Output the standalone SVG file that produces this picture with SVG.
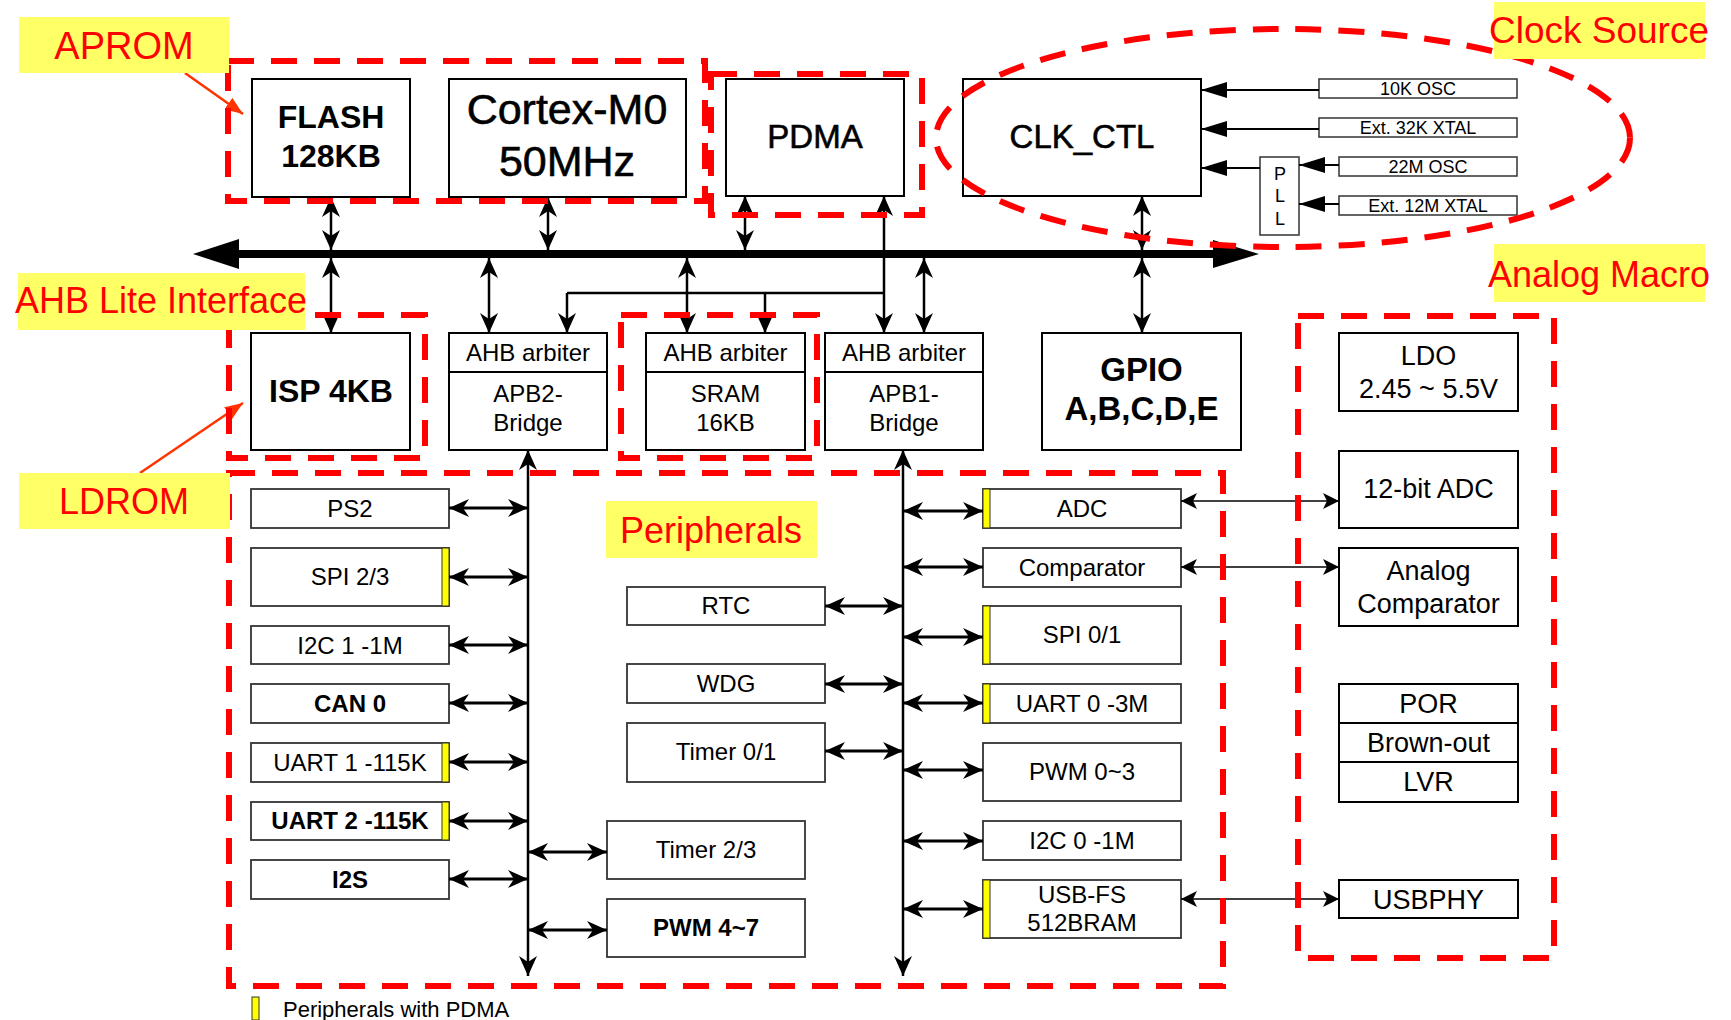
<svg xmlns="http://www.w3.org/2000/svg" width="1731" height="1020" viewBox="0 0 1731 1020">
<style>
.box{fill:#fff;stroke:#000;stroke-width:2}
.pbox{fill:#fff;stroke:#333;stroke-width:1.8}
.obox{fill:#fff;stroke:#333;stroke-width:1.5}
.t{font-family:"Liberation Sans",Arial,sans-serif;text-anchor:middle;fill:#000}
.s24{font-size:24px}
.s27{font-size:27px}
.s18{font-size:18px}
.b{font-weight:bold}
.m{stroke:#000;stroke-width:0.6}
.dash{fill:none;stroke:#f00;stroke-width:6;stroke-dasharray:26 17}
.lbl{fill:#ffff66}
.lt{font-family:"Liberation Sans",Arial,sans-serif;text-anchor:middle;fill:#f00;font-size:36px}
.bar{fill:#ff0;stroke:#333;stroke-width:1}
.c3{stroke:#000;stroke-width:3;fill:none;marker-start:url(#ah);marker-end:url(#ah)}
.cv{stroke:#000;stroke-width:2.5;fill:none;marker-start:url(#ah);marker-end:url(#ah)}
.cl{stroke:#000;stroke-width:2;fill:none;marker-end:url(#ac)}
.cs{stroke:#000;stroke-width:1.6;fill:none;marker-start:url(#as);marker-end:url(#as)}
.ptr{stroke:#f30;stroke-width:2.5;fill:none;marker-end:url(#ap)}
</style>
<defs>
<marker id="ah" viewBox="0 0 20 18" refX="20" refY="9" markerWidth="20" markerHeight="18" markerUnits="userSpaceOnUse" orient="auto-start-reverse"><path d="M0,0 L20,9 L0,18 L6,9 Z" fill="#000"/></marker>
<marker id="ac" viewBox="0 0 26 16" refX="26" refY="8" markerWidth="26" markerHeight="16" markerUnits="userSpaceOnUse" orient="auto"><path d="M0,0 L26,8 L0,16 Z" fill="#000"/></marker>
<marker id="as" viewBox="0 0 16 16" refX="16" refY="8" markerWidth="16" markerHeight="16" markerUnits="userSpaceOnUse" orient="auto-start-reverse"><path d="M0,0 L16,8 L0,16 L4,8 Z" fill="#000"/></marker>
<marker id="ap" viewBox="0 0 18 14" refX="18" refY="7" markerWidth="18" markerHeight="14" markerUnits="userSpaceOnUse" orient="auto"><path d="M0,0 L18,7 L0,14 Z" fill="#f30"/></marker>
</defs>
<rect width="1731" height="1020" fill="#fff"/>

<!-- Top nodes -->
<g id="flash"><rect class="box" x="252" y="79" width="158" height="118"/><text class="t b" font-size="32" x="331" y="128">FLASH</text><text class="t b" font-size="32" x="331" y="167">128KB</text></g>
<g id="cortex"><rect class="box" x="449" y="79" width="237" height="118"/><text class="t m" font-size="43" x="567" y="124">Cortex-M0</text><text class="t m" font-size="43" x="567" y="176">50MHz</text></g>
<g id="pdma"><rect class="box" x="726" y="79" width="178" height="117"/><text class="t m" font-size="33" x="815" y="148">PDMA</text></g>
<g id="clkctl"><rect class="box" x="963" y="79" width="238" height="117"/><text class="t m" font-size="33" x="1082" y="148">CLK_CTL</text></g>
<g id="osc10k"><rect class="obox" x="1319" y="79" width="198" height="19"/><text class="t s18" x="1418" y="95">10K OSC</text></g>
<g id="xtal32k"><rect class="obox" x="1319" y="118" width="198" height="19"/><text class="t s18" x="1418" y="134">Ext. 32K XTAL</text></g>
<g id="osc22m"><rect class="obox" x="1339" y="157" width="178" height="19"/><text class="t s18" x="1428" y="173">22M OSC</text></g>
<g id="xtal12m"><rect class="obox" x="1339" y="196" width="178" height="19"/><text class="t s18" x="1428" y="212">Ext. 12M XTAL</text></g>
<g id="pll"><rect class="obox" x="1260" y="157" width="39" height="78"/><text class="t s18" x="1280" y="180">P</text><text class="t s18" x="1280" y="202">L</text><text class="t s18" x="1280" y="225">L</text></g>

<!-- Second row -->
<g id="isp"><rect class="box" x="251" y="333" width="159" height="117"/><text class="t b" font-size="32" x="331" y="402">ISP 4KB</text></g>
<g id="apb2"><rect class="box" x="449" y="333" width="158" height="117"/><line x1="449" y1="372" x2="607" y2="372" stroke="#000" stroke-width="2"/><text class="t s24" x="528" y="361">AHB arbiter</text><text class="t s24" x="528" y="402">APB2-</text><text class="t s24" x="528" y="431">Bridge</text></g>
<g id="sram"><rect class="box" x="646" y="333" width="159" height="117"/><line x1="646" y1="372" x2="805" y2="372" stroke="#000" stroke-width="2"/><text class="t s24" x="725.5" y="361">AHB arbiter</text><text class="t s24" x="725.5" y="402">SRAM</text><text class="t s24" x="725.5" y="431">16KB</text></g>
<g id="apb1"><rect class="box" x="825" y="333" width="158" height="117"/><line x1="825" y1="372" x2="983" y2="372" stroke="#000" stroke-width="2"/><text class="t s24" x="904" y="361">AHB arbiter</text><text class="t s24" x="904" y="402">APB1-</text><text class="t s24" x="904" y="431">Bridge</text></g>
<g id="gpio"><rect class="box" x="1042" y="333" width="199" height="117"/><text class="t b" font-size="33" x="1141.5" y="381">GPIO</text><text class="t b" font-size="33" x="1141.5" y="420">A,B,C,D,E</text></g>

<!-- Left peripherals -->
<g id="ps2"><rect class="pbox" x="251" y="489" width="198" height="39"/><text class="t s24" x="350" y="517">PS2</text></g>
<g id="spi23"><rect class="pbox" x="251" y="548" width="198" height="58"/><rect class="bar" x="442" y="548" width="7" height="58"/><text class="t s24" x="350" y="585">SPI 2/3</text></g>
<g id="i2c1"><rect class="pbox" x="251" y="626" width="198" height="38"/><text class="t s24" x="350" y="654">I2C 1 -1M</text></g>
<g id="can0"><rect class="pbox" x="251" y="684" width="198" height="39"/><text class="t s24 b" x="350" y="712">CAN 0</text></g>
<g id="uart1"><rect class="pbox" x="251" y="743" width="198" height="39"/><rect class="bar" x="442" y="743" width="7" height="39"/><text class="t s24" x="350" y="771">UART 1 -115K</text></g>
<g id="uart2"><rect class="pbox" x="251" y="802" width="198" height="38"/><rect class="bar" x="442" y="802" width="7" height="38"/><text class="t s24 b" x="350" y="829">UART 2 -115K</text></g>
<g id="i2s"><rect class="pbox" x="251" y="860" width="198" height="39"/><text class="t s24 b" x="350" y="888">I2S</text></g>

<!-- Middle peripherals -->
<g id="rtc"><rect class="pbox" x="627" y="587" width="198" height="38"/><text class="t s24" x="726" y="614">RTC</text></g>
<g id="wdg"><rect class="pbox" x="627" y="664" width="198" height="39"/><text class="t s24" x="726" y="692">WDG</text></g>
<g id="timer01"><rect class="pbox" x="627" y="723" width="198" height="59"/><text class="t s24" x="726" y="760">Timer 0/1</text></g>
<g id="timer23"><rect class="pbox" x="607" y="821" width="198" height="58"/><text class="t s24" x="706" y="858">Timer 2/3</text></g>
<g id="pwm47"><rect class="pbox" x="607" y="899" width="198" height="58"/><text class="t s24 b" x="706" y="936">PWM 4~7</text></g>

<!-- Right peripherals -->
<g id="adc"><rect class="pbox" x="983" y="489" width="198" height="39"/><rect class="bar" x="983" y="489" width="7" height="39"/><text class="t s24" x="1082" y="517">ADC</text></g>
<g id="comp"><rect class="pbox" x="983" y="548" width="198" height="39"/><text class="t s24" x="1082" y="576">Comparator</text></g>
<g id="spi01"><rect class="pbox" x="983" y="606" width="198" height="58"/><rect class="bar" x="983" y="606" width="7" height="58"/><text class="t s24" x="1082" y="643">SPI 0/1</text></g>
<g id="uart0"><rect class="pbox" x="983" y="684" width="198" height="39"/><rect class="bar" x="983" y="684" width="7" height="39"/><text class="t s24" x="1082" y="712">UART 0 -3M</text></g>
<g id="pwm03"><rect class="pbox" x="983" y="743" width="198" height="58"/><text class="t s24" x="1082" y="780">PWM 0~3</text></g>
<g id="i2c0"><rect class="pbox" x="983" y="821" width="198" height="39"/><text class="t s24" x="1082" y="849">I2C 0 -1M</text></g>
<g id="usbfs"><rect class="pbox" x="983" y="880" width="198" height="58"/><rect class="bar" x="983" y="880" width="7" height="58"/><text class="t s24" x="1082" y="903">USB-FS</text><text class="t s24" x="1082" y="931">512BRAM</text></g>

<!-- Analog macro -->
<g id="ldo"><rect class="box" x="1339" y="333" width="179" height="78"/><text class="t s27" x="1428.5" y="365">LDO</text><text class="t s27" x="1428.5" y="398">2.45 ~ 5.5V</text></g>
<g id="adc12"><rect class="box" x="1339" y="451" width="179" height="77"/><text class="t s27" x="1428.5" y="498">12-bit ADC</text></g>
<g id="acomp"><rect class="box" x="1339" y="548" width="179" height="78"/><text class="t s27" x="1428.5" y="580">Analog</text><text class="t s27" x="1428.5" y="613">Comparator</text></g>
<g id="por"><rect class="box" x="1339" y="684" width="179" height="118"/><line x1="1339" y1="723" x2="1518" y2="723" stroke="#000" stroke-width="2"/><line x1="1339" y1="762" x2="1518" y2="762" stroke="#000" stroke-width="2"/><text class="t s27" x="1428.5" y="713">POR</text><text class="t s27" x="1428.5" y="752">Brown-out</text><text class="t s27" x="1428.5" y="791">LVR</text></g>
<g id="usbphy"><rect class="box" x="1339" y="880" width="179" height="38"/><text class="t s27" x="1428.5" y="909">USBPHY</text></g>

<!-- Connectors -->
<g id="connectors">
<line x1="235" y1="254" x2="1217" y2="254" stroke="#000" stroke-width="8"/>
<polygon points="193,254 239,239 239,269" fill="#000"/>
<polygon points="1259,254 1213,240 1213,268" fill="#000"/>
<line class="cv" x1="331" y1="197" x2="331" y2="250"/>
<line class="cv" x1="331" y1="258" x2="331" y2="333"/>
<line class="cv" x1="548" y1="197" x2="548" y2="250"/>
<line class="cv" x1="745" y1="196" x2="745" y2="250"/>
<line class="cv" x1="884" y1="196" x2="884" y2="333"/>
<line x1="567" y1="293" x2="884" y2="293" stroke="#000" stroke-width="2.5"/>
<path d="M567,293 V333" stroke="#000" stroke-width="2.5" fill="none" marker-end="url(#ah)"/>
<path d="M765,293 V333" stroke="#000" stroke-width="2.5" fill="none" marker-end="url(#ah)"/>
<line class="cv" x1="489" y1="258" x2="489" y2="333"/>
<line class="cv" x1="687" y1="258" x2="687" y2="333"/>
<line class="cv" x1="924" y1="258" x2="924" y2="333"/>
<line class="cv" x1="1142" y1="196" x2="1142" y2="250"/>
<line class="cv" x1="1142" y1="258" x2="1142" y2="333"/>
<line class="cl" x1="1319" y1="90" x2="1201" y2="90"/>
<line class="cl" x1="1319" y1="129" x2="1201" y2="129"/>
<line class="cl" x1="1260" y1="168" x2="1201" y2="168"/>
<line class="cl" x1="1339" y1="165" x2="1299" y2="165"/>
<line class="cl" x1="1339" y1="204" x2="1299" y2="204"/>
<line class="cv" x1="528" y1="450" x2="528" y2="976"/>
<line class="cv" x1="903" y1="450" x2="903" y2="976"/>
<line class="c3" x1="449" y1="508" x2="528" y2="508"/>
<line class="c3" x1="449" y1="577" x2="528" y2="577"/>
<line class="c3" x1="449" y1="645" x2="528" y2="645"/>
<line class="c3" x1="449" y1="703" x2="528" y2="703"/>
<line class="c3" x1="449" y1="762" x2="528" y2="762"/>
<line class="c3" x1="449" y1="821" x2="528" y2="821"/>
<line class="c3" x1="449" y1="879" x2="528" y2="879"/>
<line class="c3" x1="528" y1="852" x2="607" y2="852"/>
<line class="c3" x1="528" y1="930" x2="607" y2="930"/>
<line class="c3" x1="825" y1="606" x2="903" y2="606"/>
<line class="c3" x1="825" y1="684" x2="903" y2="684"/>
<line class="c3" x1="825" y1="751" x2="903" y2="751"/>
<line class="c3" x1="903" y1="511" x2="983" y2="511"/>
<line class="c3" x1="903" y1="567" x2="983" y2="567"/>
<line class="c3" x1="903" y1="637" x2="983" y2="637"/>
<line class="c3" x1="903" y1="703" x2="983" y2="703"/>
<line class="c3" x1="903" y1="770" x2="983" y2="770"/>
<line class="c3" x1="903" y1="841" x2="983" y2="841"/>
<line class="c3" x1="903" y1="909" x2="983" y2="909"/>
<line class="cs" x1="1181" y1="501" x2="1339" y2="501"/>
<line class="cs" x1="1181" y1="567" x2="1339" y2="567"/>
<line class="cs" x1="1181" y1="899" x2="1339" y2="899"/>
<line class="ptr" x1="185" y1="73" x2="243" y2="114"/>
<line class="ptr" x1="140" y1="473" x2="243" y2="403"/>
</g>

<!-- Dashed regions -->
<g id="regions">
<rect class="dash" x="228" y="61" width="477" height="140"/>
<rect class="dash" x="711" y="74" width="211" height="141"/>
<rect class="dash" x="229" y="315" width="196" height="143"/>
<rect class="dash" x="621" y="315" width="196" height="143"/>
<rect class="dash" x="229" y="473" width="994" height="513"/>
<rect class="dash" x="1298" y="316" width="256" height="642"/>
<ellipse class="dash" cx="1283" cy="138" rx="347" ry="109"/>
</g>

<!-- Labels -->
<g id="lbl-aprom"><rect class="lbl" x="19" y="17" width="210" height="56"/><text class="lt" x="124" y="59" style="font-size:38px">APROM</text></g>
<g id="lbl-ahb"><rect class="lbl" x="18" y="273" width="287" height="57"/><text class="lt" x="161" y="313">AHB Lite Interface</text></g>
<g id="lbl-ldrom"><rect class="lbl" x="19" y="473" width="211" height="56"/><text class="lt" x="124" y="514">LDROM</text></g>
<g id="lbl-clock"><rect class="lbl" x="1494" y="2" width="211" height="57"/><text class="lt" x="1599" y="43" style="font-size:37px">Clock Source</text></g>
<g id="lbl-analog"><rect class="lbl" x="1494" y="244" width="211" height="58"/><text class="lt" x="1599" y="287">Analog Macro</text></g>
<g id="lbl-periph"><rect class="lbl" x="606" y="501" width="211" height="57"/><text class="lt" x="711" y="543">Peripherals</text></g>

<g id="legend"><rect class="bar" x="252" y="997" width="7" height="23"/><text x="283" y="1017" style="font-family:'Liberation Sans',Arial,sans-serif;font-size:22px;fill:#000">Peripherals with PDMA</text></g>
</svg>
